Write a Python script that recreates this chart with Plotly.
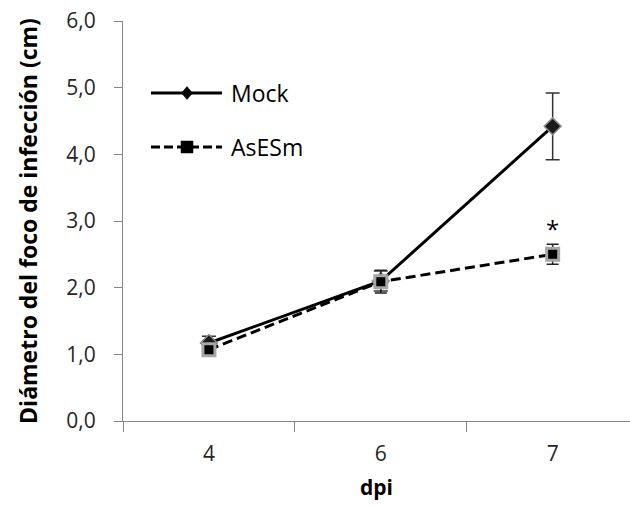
import plotly.graph_objects as go

# dpi categories and lesion diameter (cm)
dpi = ['4', '6', '7']
mock_mean = [1.17, 2.10, 4.42]
mock_err = [0.10, 0.15, 0.50]
asesm_mean = [1.07, 2.09, 2.50]
asesm_err = [0.05, 0.17, 0.15]
signif = ['', '', '*']

FONT = 'Open Sans'

# plot area in pixels (used only to place the hand-made legend)
L, T, W, H = 123, 21, 507, 400


def dx(px):
    return (px - L) / W


def dy(py):
    return (T + H - py) / H


fig = go.Figure()

fig.add_trace(go.Scatter(
    x=dpi, y=mock_mean, name='Mock',
    mode='lines+markers',
    line=dict(color='black', width=3),
    marker=dict(symbol='diamond', size=13, color='#1a1a1a',
                line=dict(color='#8c8c8c', width=1.5)),
    error_y=dict(type='data', array=mock_err, visible=True,
                 color='#333333', thickness=1.5, width=7),
    showlegend=False,
))

fig.add_trace(go.Scatter(
    x=dpi, y=asesm_mean, name='AsESm',
    mode='lines+markers',
    line=dict(color='black', width=3, dash='10px,5px'),
    marker=dict(symbol='square', size=12, color='black',
                line=dict(color='#a6a6a6', width=3)),
    error_y=dict(type='data', array=asesm_err, visible=True,
                 color='#222222', thickness=1.5, width=6),
    showlegend=False,
))

# significance mark above the AsESm error bars
fig.add_trace(go.Scatter(
    x=dpi, y=[m + e for m, e in zip(asesm_mean, asesm_err)],
    mode='text', text=signif, textposition='top center',
    textfont=dict(family=FONT, size=24, color='black'),
    showlegend=False, hoverinfo='skip',
))

# legend drawn by hand (long line samples as in the original)
legend_rows = [('Mock', 93, 'solid', 'diamond'), ('AsESm', 147, '9px,4px', 'square')]
for label, py, dash, sym in legend_rows:
    fig.add_shape(type='line', xref='x domain', yref='y domain',
                  x0=dx(151), x1=dx(222), y0=dy(py), y1=dy(py),
                  line=dict(color='black', width=3, dash=dash))
    cx, cy = dx(187), dy(py)
    if sym == 'diamond':
        hx, hy = 5.5 / W, 6.5 / H
        path = (f'M {cx - hx} {cy} L {cx} {cy + hy} L {cx + hx} {cy} '
                f'L {cx} {cy - hy} Z')
    else:
        hx, hy = 6 / W, 6 / H
        path = (f'M {cx - hx} {cy - hy} L {cx + hx} {cy - hy} '
                f'L {cx + hx} {cy + hy} L {cx - hx} {cy + hy} Z')
    fig.add_shape(type='path', xref='x domain', yref='y domain', path=path,
                  fillcolor='black', line=dict(color='black', width=0.5))
    fig.add_annotation(xref='x domain', yref='y domain', x=dx(229), y=dy(py),
                       xanchor='left', yanchor='middle', showarrow=False,
                       text=label, font=dict(family=FONT, size=23, color='black'))

fig.update_layout(
    width=630, height=507,
    paper_bgcolor='white', plot_bgcolor='white',
    margin=dict(l=L, r=630 - L - W, t=T, b=507 - T - H),
    separators=', ',
    font=dict(family=FONT, size=21, color='#262626'),
    xaxis=dict(
        # the original axis runs a little past the right edge of the image
        type='category', categoryorder='array', categoryarray=dpi,
        range=[-0.5, 2.45], tickson='boundaries', automargin=False,
        showline=True, linecolor='#868686', linewidth=1,
        ticks='outside', ticklen=10, tickcolor='#868686',
        showgrid=False, zeroline=False, ticklabelstandoff=14,
        title=dict(text='<b>dpi</b>', standoff=14,
                   font=dict(family=FONT, size=21, color='black')),
    ),
    yaxis=dict(
        range=[0, 6], dtick=1, tickformat='.1f', automargin=False,
        showline=True, linecolor='#868686', linewidth=1,
        ticks='outside', ticklen=8, tickcolor='#868686',
        showgrid=False, zeroline=False, ticklabelstandoff=14,
        title=dict(text='<b>Diámetro del foco de infección (cm)</b>', standoff=22,
                   font=dict(family=FONT, size=23, color='black')),
    ),
)

# drop the browser's default page margin so the figure sits at (0, 0)
fig.write_html('out.html', config={'displayModeBar': False},
               post_script="document.body.style.margin = '0px';")
